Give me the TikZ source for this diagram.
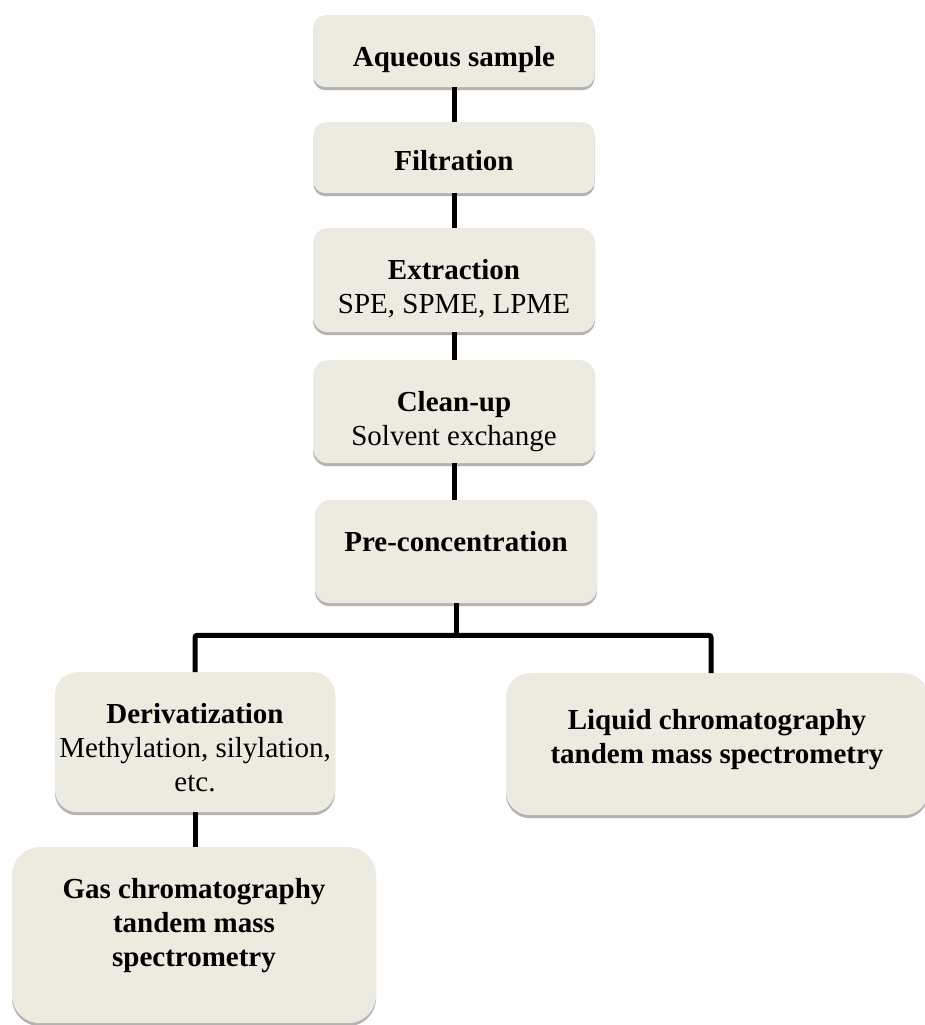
\documentclass[tikz,border=0pt]{standalone}
\usepackage{fontspec}
\setmainfont{Liberation Serif}
\usetikzlibrary{shadows}
\definecolor{boxfill}{RGB}{237,235,224}
\begin{document}
\begin{tikzpicture}[x=1pt,y=1pt,
    stepbox/.style={fill=boxfill, rounded corners=#1, align=center, inner sep=4pt,
      anchor=north, text height=47pt, font=\fontsize{29}{34}\selectfont,
      drop shadow={shadow xshift=0pt, shadow yshift=-3pt, fill=black!30, opacity=1}},
    stepbox/.default=12pt,
    link/.style={line width=5pt, black}]
    \clip (0,0) rectangle (925,-1025);
    % main chain of steps (text sits at the top of each box)
    \node[stepbox, minimum width=281pt, text depth=17pt] (aq) at (454,-15) {\textbf{Aqueous sample}};
    \node[stepbox, minimum width=281pt, text height=44pt, text depth=19pt] (filt) at (454,-122) {\textbf{Filtration}};
    \node[stepbox=15pt, minimum width=282pt, text height=81pt, text depth=15pt] (extr) at (454,-228) {\textbf{Extraction}\\SPE, SPME, LPME};
    \node[stepbox=15pt, minimum width=282pt, text height=81pt, text depth=14pt] (clean) at (454,-360) {\textbf{Clean-up}\\Solvent exchange};
    \node[stepbox=15pt, minimum width=282pt, text depth=48pt] (pre) at (456,-500) {\textbf{Pre-concentration}};
    % the two branches
    \node[stepbox=22pt, minimum width=280pt, text height=115pt, text depth=17pt] (deriv) at (195,-672) {\textbf{Derivatization}\\Methylation, silylation,\\etc.};
    \node[stepbox=24pt, minimum width=422pt, text height=86pt, text depth=48pt] (liq) at (717,-673) {\textbf{Liquid chromatography}\\\textbf{tandem mass spectrometry}};
    \node[stepbox=28pt, minimum width=364pt, text height=115pt, text depth=53pt] (gas) at (194,-847) {\textbf{Gas chromatography}\\\textbf{tandem mass}\\\textbf{spectrometry}};
    % connectors
    \draw[link] (aq.south) -- (filt.north);
    \draw[link] (filt.south) -- (extr.north);
    \draw[link] (extr.south) -- (clean.north);
    \draw[link] (clean.south) -- (pre.north -| clean.south);
    \draw[link] (pre.south) -- ++(0,-32) coordinate (split);
    \draw[link, rounded corners=2pt] (deriv.north) |- (split) -| ([xshift=-6pt]liq.north);
    \draw[link] (deriv.south) -- (deriv.south |- gas.north);
\end{tikzpicture}
\end{document}
